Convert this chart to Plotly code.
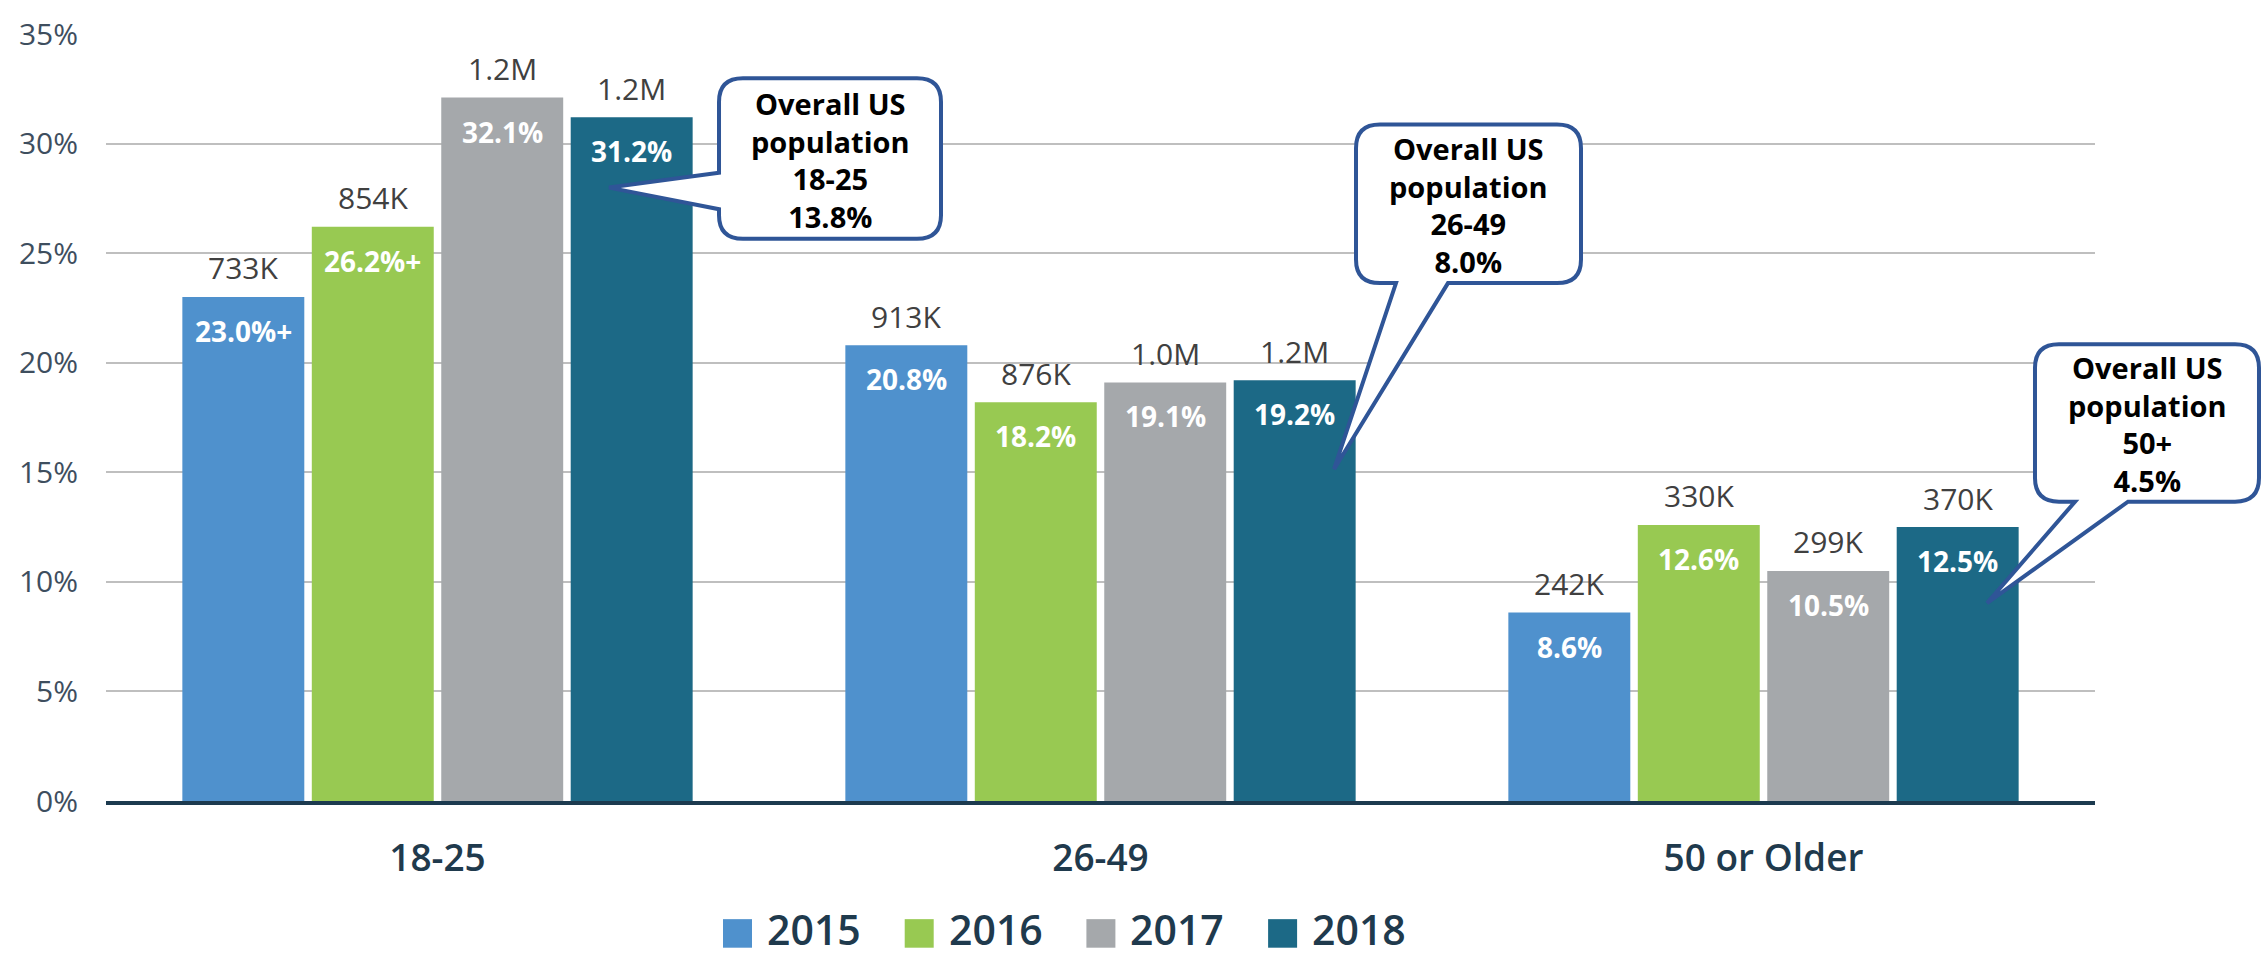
import plotly.graph_objects as go

# Age groups and yearly series
age_groups = ["18-25", "26-49", "50 or Older"]
years = ["2015", "2016", "2017", "2018"]
share_2015 = [23.0, 20.8, 8.6]
share_2016 = [26.2, 18.2, 12.6]
share_2017 = [32.1, 19.1, 10.5]
share_2018 = [31.2, 19.2, 12.5]
count_2015 = ["733K", "913K", "242K"]
count_2016 = ["854K", "876K", "330K"]
count_2017 = ["1.2M", "1.0M", "299K"]
count_2018 = ["1.2M", "1.2M", "370K"]
flag_2015 = ["+", "", ""]
flag_2016 = ["+", "", ""]
flag_2017 = ["", "", ""]
flag_2018 = ["", "", ""]
overall_groups = ["18-25", "26-49", "50+"]
overall_share = [13.8, 8.0, 4.5]
y_ticks = [0, 5, 10, 15, 20, 25, 30, 35]

shares = [share_2015, share_2016, share_2017, share_2018]
counts = [count_2015, count_2016, count_2017, count_2018]
flags = [flag_2015, flag_2016, flag_2017, flag_2018]
colors = ["#4f91cd", "#98c952", "#a5a8ab", "#1c6986"]

FONT = "Open Sans"
W, H = 2262, 959
L, R, T, B = 106, 2095, 22, 801  # plot box in pixels
BARGAP, GROUPGAP = 0.219, 0.058


def px(x):
    return (x - L) / (R - L)


def py(y):
    return (B - y) / (B - T)


fig = go.Figure()
for yr, vals, col in zip(years, shares, colors):
    fig.add_trace(go.Bar(name=yr, x=age_groups, y=vals, marker_color=col,
                         marker_line_width=0, showlegend=False,
                         hoverinfo="skip"))

annotations = []
shapes = []
n = len(years)
group_w = 1 - BARGAP
slot = group_w / n
for i in range(n):
    for c in range(len(age_groups)):
        xc = c - group_w / 2 + slot * (i + 0.5)
        v = shares[i][c]
        annotations.append(dict(
            x=xc, y=v, xref="x", yref="y", text=counts[i][c], showarrow=False,
            yshift=29, font=dict(family=FONT, size=30, color="#404040")))
        annotations.append(dict(
            x=xc, y=v, xref="x", yref="y", text=f"{v:.1f}%{flags[i][c]}",
            showarrow=False, yshift=-34,
            font=dict(family=FONT, size=28, color="white", weight="bold")))


# Speech-bubble callouts (pixel geometry converted to paper space)
def bubble(x0, y0, x1, y1, wedge, r=24):
    side, a, b, tip = wedge

    def P(x, y):
        return f"{px(x):.5f},{py(y):.5f}"

    d = f"M {P(x0 + r, y0)} L {P(x1 - r, y0)} Q {P(x1, y0)} {P(x1, y0 + r)} "
    d += f"L {P(x1, y1 - r)} Q {P(x1, y1)} {P(x1 - r, y1)} "
    if side == "bottom":
        d += f"L {P(b, y1)} L {P(*tip)} L {P(a, y1)} "
    d += f"L {P(x0 + r, y1)} Q {P(x0, y1)} {P(x0, y1 - r)} "
    if side == "left":
        d += f"L {P(x0, b)} L {P(*tip)} L {P(x0, a)} "
    d += f"L {P(x0, y0 + r)} Q {P(x0, y0)} {P(x0 + r, y0)} Z"
    return d


bubbles = [
    (719, 67, 941, 230, ("left", 163, 200, (609, 178))),
    (1356, 114, 1581, 275, ("bottom", 1396, 1448, (1334, 464))),
    (2035, 337, 2259, 497, ("bottom", 2075, 2128, (1987, 600))),
]
for (x0, y0, x1, y1, wedge), grp, val in zip(bubbles, overall_groups, overall_share):
    shapes.append(dict(type="path", xref="paper", yref="paper",
                       path=bubble(x0, y0, x1, y1, wedge),
                       fillcolor="white", line=dict(color="#2f5597", width=4),
                       layer="above"))
    annotations.append(dict(
        x=px((x0 + x1) / 2), y=py((y0 + y1) / 2 + 1), xref="paper", yref="paper",
        text=f"Overall US<br>population<br>{grp}<br>{val:.1f}%", showarrow=False,
        font=dict(family=FONT, size=29, color="black", weight="bold"),
        xanchor="center", yanchor="middle"))

# Legend drawn with square swatches and labels
for i, (yr, col) in enumerate(zip(years, colors)):
    sx = 723 + i * 181.7
    shapes.append(dict(type="rect", xref="paper", yref="paper",
                       x0=px(sx), x1=px(sx + 29), y0=py(950), y1=py(921),
                       fillcolor=col, line=dict(width=0)))
    annotations.append(dict(
        x=px(sx + 42), y=py(931), xref="paper", yref="paper", text=yr,
        showarrow=False, xanchor="left", yanchor="middle",
        font=dict(family=FONT, size=41, color="#1f3a4d", weight=600)))

fig.update_layout(
    width=W, height=H,
    margin=dict(l=L, r=W - R, t=T, b=H - B),
    paper_bgcolor="white", plot_bgcolor="white",
    barmode="group", bargap=BARGAP, bargroupgap=GROUPGAP,
    font=dict(family=FONT),
    annotations=annotations, shapes=shapes,
    xaxis=dict(showgrid=False, showline=True, linecolor="#1c3a4f", linewidth=4,
               ticks="", ticklabelstandoff=22,
               tickfont=dict(family=FONT, size=37, color="#1f3a4d", weight=600)),
    yaxis=dict(range=[0, 35], tickvals=y_ticks,
               ticktext=[f"{t}%" for t in y_ticks],
               showgrid=True, gridcolor="#bfbfbf", gridwidth=2,
               zeroline=False, showline=False, ticks="", ticklabelstandoff=27,
               tickfont=dict(family=FONT, size=30, color="#3e4e5e")),
)

fig.write_html("out.html")
